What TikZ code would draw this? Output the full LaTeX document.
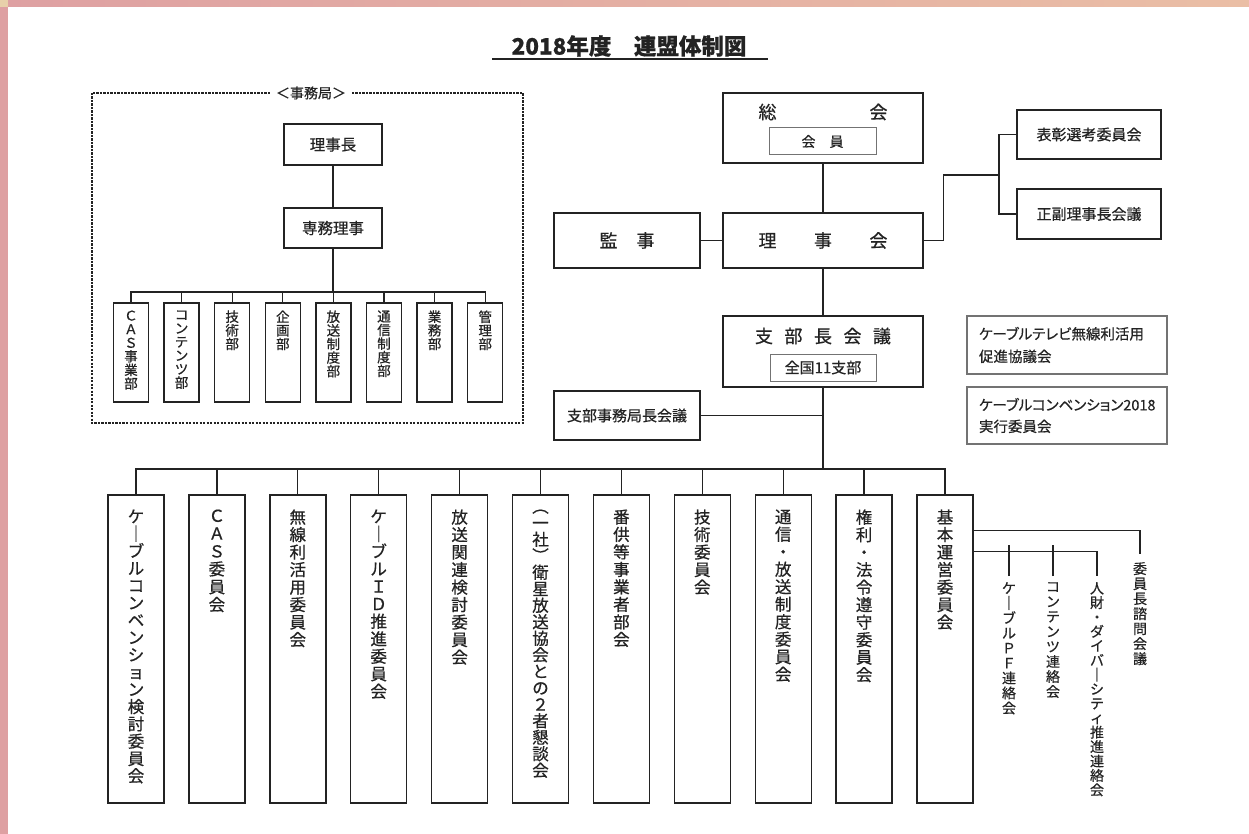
\documentclass[tikz,border=0pt]{standalone}
\usepackage{fontspec}
\setmainfont{Noto Sans CJK JP}[FakeBold=0.6]
\usetikzlibrary{calc}
\definecolor{pinkc}{RGB}{222,160,162}
\definecolor{beigec}{RGB}{232,208,170}
\definecolor{peachc}{RGB}{234,190,165}
\definecolor{inkc}{RGB}{35,35,35}
\def\tatex#1{\ifx\relax#1\else\hbox to 1em{\hss#1\hss}\expandafter\tatex\fi}
\newcommand\tatebox[2]{\vbox{\baselineskip=#1\relax\lineskiplimit=-100pt\lineskip=0pt\relax\expandafter\tatex#2\relax}}
\tikzset{
  bx/.style={draw=inkc, line width=1.4pt, inner sep=0pt, fill=white, text=inkc},
  ibx/.style={draw=black!55, line width=1pt, inner sep=0pt, fill=white, text=inkc},
  lbx/.style={draw=black!55, line width=1.1pt, fill=white, text=inkc},
  ln/.style={draw=inkc, line width=1.3pt},
  vtxt/.style={inner sep=0pt, anchor=north, text=inkc},
  txt/.style={inner sep=0pt, text=inkc},
  big/.style={font=\fontsize{16.5}{17.5}\selectfont},
  sml/.style={font=\fontsize{13.5}{14}\selectfont},
  mid/.style={font=\fontsize{14}{15}\selectfont},
}
\begin{document}
\begin{tikzpicture}[x=1pt,y=-1pt]
\useasboundingbox (0,0) rectangle (1249,834);
% frame
\fill[pinkc] (0,0) rectangle (8,834);
\shade[left color=pinkc, right color=peachc] (0,0) rectangle (1249,7);
\fill[beigec] (0,0) rectangle (8,7);

% title
\node[txt, font=\fontsize{22.5}{26}\selectfont\bfseries] (ttl) at (629,46) {2018年度　連盟体制図};
\coordinate (ulL) at (492,59);
\coordinate (ulR) at (768,59);
\draw[ln] (ulL) -- (ulR);

% ===== secretariat =====
\draw[inkc, line width=1.2pt, dash pattern=on 2.2pt off 1.3pt] (92,93) rectangle (523,423);
\node[txt, fill=white, inner xsep=6pt, inner ysep=2pt, font=\fontsize{14}{15}\selectfont] (jmk) at (311,93) {＜事務局＞};

\node[bx, minimum width=98pt, minimum height=41pt, font=\fontsize{15.5}{16}\selectfont] (rjc) at (333,144.5) {理事長};
\node[bx, minimum width=98pt, minimum height=40pt, font=\fontsize{15.5}{16}\selectfont] (smr) at (333,228) {専務理事};
\coordinate (jbus) at (333,292);

\foreach \i/\t in {0/ＣＡＳ事業部,1/コンテンツ部,2/技術部,3/企画部,4/放送制度部,5/通信制度部,6/業務部,7/管理部}{
  \node[bx, minimum width=35pt, minimum height=99pt] (d\i) at ({131+50.6*\i},352.5) {};
  \node[vtxt, sml] (dt\i) at ([yshift=-8pt]d\i.north) {\tatebox{13.6pt}{\t}};
  \draw[ln] (d\i.north) |- (jbus);
}
\draw[ln] (rjc.south) -- (smr.north);
\draw[ln] (smr.south) -- (jbus);

% ===== top right =====
\node[bx, minimum width=200pt, minimum height=70pt] (sok) at (823,128) {};
\node[txt, font=\fontsize{18}{19}\selectfont] (sokt) at (823,112) {\makebox[129pt]{総\hfill 会}};
\node[ibx, minimum width=107pt, minimum height=27pt, font=\fontsize{14}{15}\selectfont] (kin) at (822.5,141.5) {会\hspace{14pt}員};

\node[bx, minimum width=200pt, minimum height=55pt, font=\fontsize{18}{19}\selectfont] (rjk) at (823,240.5) {\makebox[129pt]{理\hfill 事\hfill 会}};
\node[bx, minimum width=146pt, minimum height=55pt, font=\fontsize{18}{19}\selectfont] (kan) at (627,240.5) {\makebox[55pt]{監\hfill 事}};

\node[bx, minimum width=144pt, minimum height=49pt, font=\fontsize{15}{16}\selectfont] (hyo) at (1089,134.5) {表彰選考委員会};
\node[bx, minimum width=144pt, minimum height=50pt, font=\fontsize{15}{16}\selectfont] (sfk) at (1089,214) {正副理事長会議};
\coordinate (rsp) at (999,175);

\draw[ln] (sok.south) -- (rjk.north);
\draw[ln] (kan.east) -- (rjk.west);
\draw[ln] (rjk.east) -- ++(20,0) |- (rsp);
\draw[ln] (hyo.west) -| (rsp);
\draw[ln] (sfk.west) -| (rsp);

% ===== branch council =====
\node[bx, minimum width=200pt, minimum height=71pt] (sbk) at (823,351.5) {};
\node[txt, font=\fontsize{18}{19}\selectfont] (sbkt) at (823,336) {\makebox[136pt]{支\hfill 部\hfill 長\hfill 会\hfill 議}};
\node[ibx, minimum width=106pt, minimum height=27pt, font=\fontsize{15}{16}\selectfont] (zk) at (823,367.5) {全国11支部};
\node[bx, minimum width=146pt, minimum height=49pt, font=\fontsize{15}{16}\selectfont] (sjk) at (627,415.5) {支部事務局長会議};

\node[lbx, minimum width=200pt, minimum height=58pt, inner xsep=12pt, text width=176pt, align=left, font=\fontsize{14.5}{22.5}\selectfont\addfontfeature{RawFeature=+palt}] (cwb) at (1067,345) {ケーブルテレビ無線利活用\\促進協議会};
\node[lbx, minimum width=200pt, minimum height=57pt, inner xsep=12pt, text width=176pt, align=left, font=\fontsize{14.5}{21.5}\selectfont\addfontfeature{RawFeature=+palt}] (ccb) at (1067,415.5) {ケーブルコンベンション2018\\実行委員会};

\coordinate (mbus) at (823,469);
\draw[ln] (rjk.south) -- (sbk.north);
\draw[ln] (sbk.south) -- (mbus);
\draw[ln] (sjk.east) -- (sjk.east -| mbus);

% ===== committees =====
\foreach \i/\p/\t in {
  1/17.3pt/ケ｜ブルコンベンション検討委員会,
  2/17.8pt/ＣＡＳ委員会,
  3/17.5pt/無線利活用委員会,
  4/17.5pt/ケ｜ブルＩＤ推進委員会,
  5/17.5pt/放送関連検討委員会,
  6/16.5pt/︵一社︶衛星放送協会との２者懇談会,
  7/17.5pt/番供等事業者部会,
  8/17.5pt/技術委員会,
  9/17.5pt/通信・放送制度委員会,
  10/17.5pt/権利・法令遵守委員会,
  11/17.5pt/基本運営委員会}{
  \node[bx, minimum width=56pt, minimum height=308pt] (c\i) at ({136+80.9*(\i-1)},649) {};
  \node[vtxt, big] (ct\i) at ([yshift=-15pt]c\i.north) {\tatebox{\p}{\t}};
  \draw[ln] (c\i.north) |- (mbus);
}

% sub-groups of 基本運営委員会
\node[vtxt, mid] (s1) at (1009,582) {\tatebox{15pt}{ケ｜ブルＰＦ連絡会}};
\node[vtxt, mid] (s2) at (1053,582) {\tatebox{15pt}{コンテンツ連絡会}};
\node[vtxt, mid] (s3) at (1097,582) {\tatebox{14.4pt}{人財・ダイバ｜シティ推進連絡会}};
\node[vtxt, mid] (s4) at (1140,562) {\tatebox{15pt}{委員長諮問会議}};
\coordinate (k1) at ([yshift=-36pt]c11.north east);
\coordinate (k2) at ([yshift=-57pt]c11.north east);
\draw[ln] (k1) -| ([yshift=8pt]s4.north);
\draw[ln] (k2) -| ([yshift=6pt]s3.north);
\draw[ln] ([yshift=6pt]s1.north) -- ([yshift=6pt]s1.north |- k2);
\draw[ln] ([yshift=6pt]s2.north) -- ([yshift=6pt]s2.north |- k2);
\end{tikzpicture}
\end{document}
